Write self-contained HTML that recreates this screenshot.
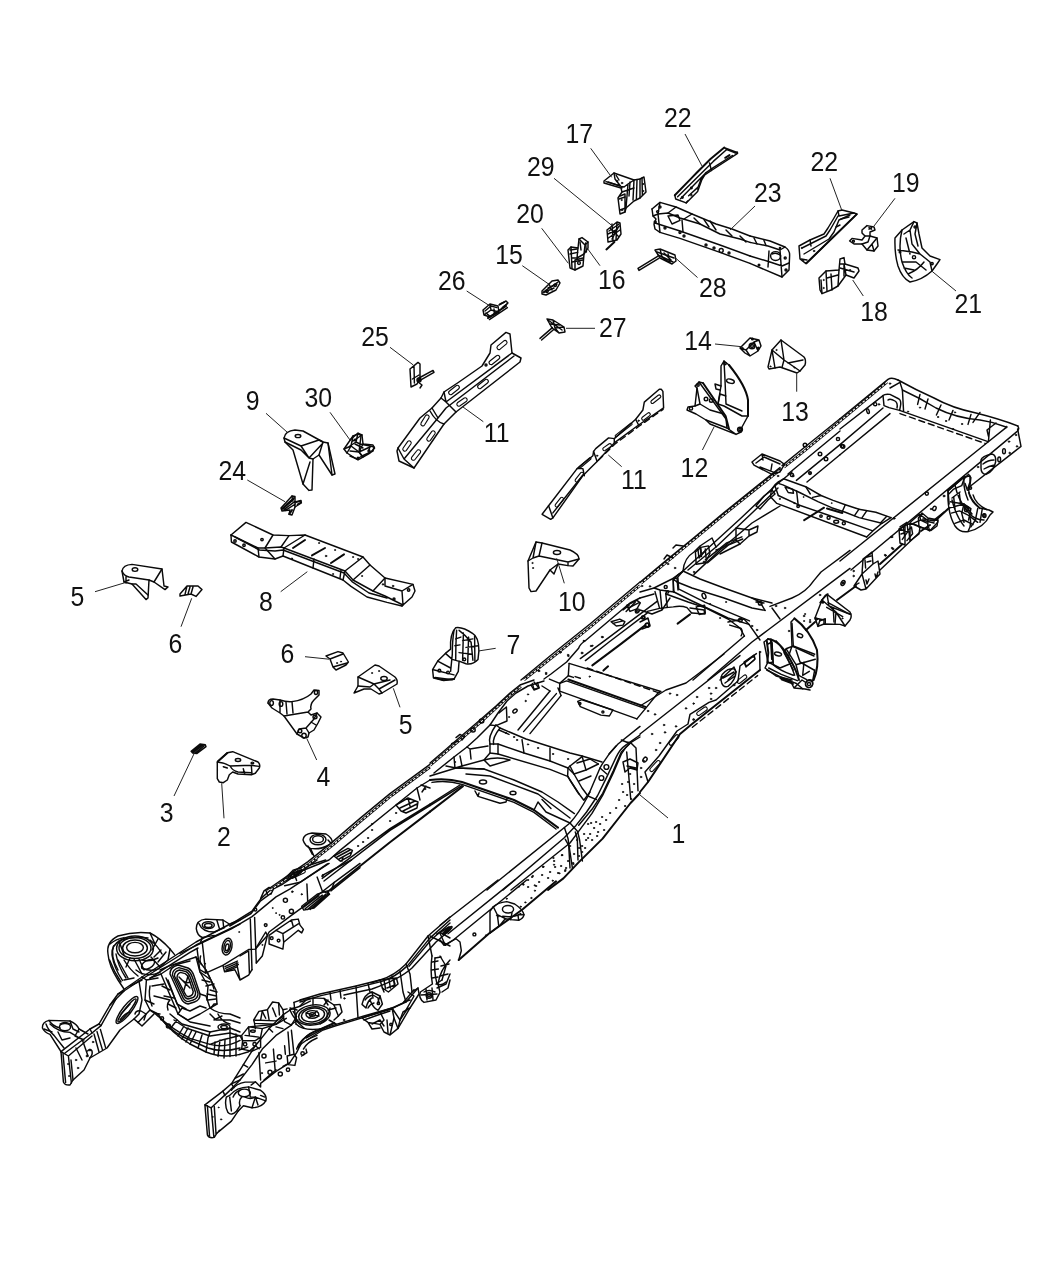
<!DOCTYPE html>
<html lang="en"><head><meta charset="utf-8"><title>Frame, Complete - Parts Diagram</title>
<style>
html,body{margin:0;padding:0;background:#fff}
body{width:1050px;height:1275px;overflow:hidden}
svg{display:block}
.d path,.d ellipse,.d circle{fill:none;stroke:#0a0a0a;stroke-width:1.45;stroke-linejoin:round;stroke-linecap:round}
.d .k,.d .k circle{fill:#141414;stroke-width:.7}
.d .t{stroke-width:1.1}
.d .h{stroke-width:2}
.d .bd{stroke-width:2.6;stroke-linecap:butt}
.d .bi{stroke:#fff;stroke-width:1.1;stroke-dasharray:2.6 1.6;stroke-linecap:butt}
.ld line{stroke:#222;stroke-width:1;fill:none}
.lb text{font-family:"Liberation Sans","DejaVu Sans",sans-serif;font-size:27.6px;fill:#111;text-anchor:middle}
</style></head><body>
<svg width="1050" height="1275" viewBox="0 0 1050 1275">
<rect width="1050" height="1275" fill="#fff"/>
<!-- f_030_920.frag -->
<g class="d">
<path d="M61 1051.6L63.4 1082Q65 1085.6 70 1085L73 1080L84 1070L90 1058L107 1048L120 1030L134 1019"/>
<path d="M68.4 1056L71.4 1083M61 1051.6L68.4 1056L92 1036"/>
<path d="M61 1051.6L90 1029L99 1024L110 1005L118 994L126 988L142 977"/>
<path d="M65 1053L92 1033L101 1025.6L116 999L124 991L139 981"/>
<path d="M94 1034L99 1052M97 1031.6L102.4 1049.6M100.4 1029.4L105.6 1047.6"/>
<ellipse cx="127" cy="1010" rx="16.8" ry="4.4" transform="rotate(-52 127 1010)"/><ellipse cx="127" cy="1010.4" rx="14.4" ry="2.4" transform="rotate(-52 127 1010.4)"/>
<path d="M120 1020Q124 1014 130 1012M121 1014L130 1004"/>
<path d="M139 981L142 1000L139 1014L134 1019M142 977L146.4 980L145 1000L150 1010M134 1019L138 1022.4L150 1010L158 1014"/>
<path d="M135 1014Q136 1010 141 1011L146 1014L144 1020"/>
<path d="M42.4 1028Q42 1022 49 1020.4L70 1021Q77 1024 79 1029L88 1034M42.4 1028Q44.4 1032.4 50 1034.4L60 1050L61 1052"/>
<ellipse cx="65" cy="1027" rx="5.6" ry="3.6"/>
<path d="M50 1024Q58 1032 70 1032.4L80 1038.4M54 1035.4L64 1048M46 1024Q48 1030 54 1035.4M79 1029L75 1036L84 1040"/>
<path d="M108 954Q106 942 118 936Q134 931 150 933Q160 938 170 949L174.4 954.4M108 954Q109 966 118 980L124 989"/>
<path d="M112 955Q111 945 121 940Q134 936 148 938M112 955Q114 968 122.4 980.4M116 954Q118 966 126 978"/>
<ellipse cx="135" cy="948" rx="16" ry="10.4"/><ellipse cx="135" cy="948" rx="12.4" ry="8"/><ellipse cx="135" cy="947.6" rx="8.4" ry="5.2"/>
<path d="M124 960Q130 970 138 976M118 960L128 978M142 960Q150 962 158 958M134 959L142 974M150 940Q158 946 162 954"/>
<ellipse cx="148" cy="964.4" rx="7.2" ry="4" transform="rotate(-30 148 964.4)"/>
<path d="M142 977L170 959L196 942L232 923L240 920"/>
<path d="M139 981L158 969L182 954L196 945L240 924"/>
<path d="M150 978.4L166 967.6L190 952.4L198 948"/>
<path d="M170 974Q170 967 178 965L188 968Q192 970 194 976L200 994Q200.4 1000 194.4 1002L188 1004Q183 1003 181 998Z"/>
<path d="M174.4 976Q174.4 971 179.6 970L186 971.6Q189 973 190.4 977.6L195.6 992.4Q195.6 997 191.6 998L188 999Q185 998.4 183.6 994.4Z"/>
<path d="M179 977L190 988M188 976L184 990M182 980Q186 984 190 982"/>
<path d="M161 974L170 968M161 974L178 1014L188 1020L200 1014L210 1008M160 970L168 966.4L196 957L206 970L216 990L217 1004L210 1008M200 994L206 996L210 1008"/>
<path d="M166 978L180 1010M196 957L200 972L208 986L207 1000M150 978L161 974M152 986L164 984M154 996L170 1000Q166 1004 168 1010"/>
<path d="M206 986L214 984M207 994L216.4 996"/>
<path d="M158 1014Q170 1032 190 1044L206 1052Q222 1058.4 240 1054.4"/>
<path d="M154 1012.4Q170 1028 190 1038.4L210 1044.4Q226 1048.4 240 1040.4"/>
<path d="M170 1014L182 1024L210 1032L230 1028L240 1032M178 1014L190 1022L210 1026"/>
<path d="M206 1052L208 1038L210 1032M218 1056.4L220 1040M230 1056.4L230 1028M190 1044L196 1032M182 1039L188 1028M210 1044.4L222 1040L238 1036"/>
<circle cx="162" cy="1018.4" r="1.6"/><circle cx="168.4" cy="1026" r="2"/><ellipse cx="224" cy="1027" rx="6" ry="3"/><ellipse cx="224" cy="1027" rx="3.2" ry="1.6"/>
<path d="M210 1008Q218 1014 230 1014L240 1018M214 1020L222 1016"/>
<g class="k"><circle cx="76" cy="1060" r="0.8"/><circle cx="78" cy="1068" r="0.8"/><circle cx="90" cy="1050" r="1"/><circle cx="87" cy="1056" r="1"/><circle cx="93" cy="1042" r="0.8"/><circle cx="68" cy="1064" r="0.6"/><circle cx="69" cy="1076" r="0.6"/></g>
<path d="M110 944Q116 939 124 937.6M109.6 960Q114 972 121 982M113.6 946Q110 956 118 970M119 941L124 955M150 933L155 944M158 939L152 950M161 950L154 957M166 952L158 962M130 958L126 967M139 959L144 970M151 957L160 967M124 980L134 978M130 986L142 980"/>
<ellipse cx="135" cy="948.4" rx="18.4" ry="12.4"/>
<path d="M142 968Q150 972 158 969M136 970Q146 978 160 972.4M170 949L168 960L158 969"/>
<path d="M49 1020.4Q52 1026 60 1028M70 1021L73 1029L79 1032M58 1032L62 1040L70 1038M44 1029L52 1032M60 1024Q65 1021 70 1024"/>
<path d="M63 1053.6L65.6 1082.4M73 1080L71 1060M90 1029L92 1033M99 1024L101 1025.6M110 1005L116 999M118 994L124 991M76 1048L82 1060M82.4 1040L88 1056"/>
<path d="M87.6 1051Q90 1048 92 1051Q93 1055 89.6 1058"/>
<path d="M172.4 975Q172.4 969.2 178.8 967.6L187 970Q190.4 971.6 192.2 976.8L198 993.2Q198 998.4 193.2 1000L188 1001.6Q184 1000.8 182.4 996.4Z"/>
<path d="M177 978Q177 973.6 180.4 972.4L185.2 973.6Q187.6 974.8 188.8 978.4L193.2 991.6Q193.2 995.2 190.4 996L188 996.8Q186 996.4 185 993.6Z"/>
<path d="M168 980L177 1004L186 1009M170 968L174 965L190 961M200 972L211 980L214 989M206 970L210 978M208 1000L216 999M210 990L217 992M202 980L210 982M211 1008L214 1004L217 1004"/>
<path d="M162 986L170 990M164 996L174 998M168 1004L176 1008M178 1014L182 1008L190 1011L200 1006L206 1008"/>
<path d="M150 986Q148 996 152 1006M145 1000L154 1004M146.4 980L158 978"/>
<path d="M162 1020Q174 1034 192 1041L208 1048Q222 1053 240 1048"/>
<path d="M174 1020L186 1028L210 1036L230 1033L240 1036M198 1048L202 1035M214 1054L215 1042M224 1058L225 1040M236 1056L236 1034M186 1042L192 1030M178 1036L184 1026M170 1029L177 1020"/>
<path d="M210 1014L216 1020L230 1020L240 1023M218 1014Q222 1022 230 1024"/>
<path d="M150 1010Q154 1014 160 1014M138 1022.4L142 1026L154 1014"/>
</g>
<!-- f_180_860.frag -->
<g class="d">
<path d="M231.4 923.8L252 911.1L261.4 898.1L269.1 891.2L282.9 884L300 872.3L317.1 860"/>
<path d="M180 953.4L202.3 942.6L231.4 928.9L252 916.6L276 896.9L289.7 889.1L329.1 863.4"/>
<path d="M229.7 926L251.1 913.5L260.6 900.8L270.9 893.4"/>
<path d="M205.7 973.1L222.9 965.4L248.6 949.5L255.4 949.1L267.4 935.4L269.1 932L289.7 916.6L303.4 906.6L334.3 882.3L360 863.4"/>
<path d="M250.3 919.1L252 969.7M254.6 917.4L256.3 962.9M202.3 942.6L205.7 973.1M197.1 949.1L199.7 969.7L205.7 973.1"/>
<path d="M196.3 928.6Q196.3 920 205.7 919.1L222.9 920L230.1 924.5M196.3 928.6Q197.1 935.4 202.3 937.5L214.3 935.4M202.3 937.5L200.6 942.3"/>
<ellipse cx="208.3" cy="925.1" rx="6" ry="3.43"/><ellipse cx="208.3" cy="925.5" rx="3.77" ry="2.06"/>
<path d="M198.9 923.4Q202.3 932 214.3 932L224.6 927.7M216.9 920.3L219.4 928.6M222.9 920L223.7 927.7"/>
<ellipse cx="227.1" cy="946.6" rx="4.8" ry="8.57" transform="rotate(12 227.1 946.6)"/><ellipse cx="227.1" cy="946.6" rx="3.09" ry="6.17" transform="rotate(12 227.1 946.6)"/><ellipse cx="227.1" cy="947.4" rx="1.71" ry="3.43" transform="rotate(12 227.1 947.4)"/>
<path d="M222.9 965.4L224.6 971.8L234.9 969.7L240 980L248.6 975.2L252 969.7M255.4 949.1L265.7 932L267.4 935.4L262.3 956L256.3 962.9M240 956L248.6 950.9L249.4 973.1M236.6 962.9L240 980"/>
<path d="M224.9 966.6L237.4 961.1M225.4 968.3L237.9 962.9M225.9 970.1L238.3 964.6M226.6 971.4L236.6 967.1"/>

<path d="M269.1 935.4L276 930.3L291.4 920L298.3 919.1L300 925.1L303.4 929.4L301.7 932.9L298.3 930.3L283.7 942.3L282.9 949.1L269.1 944ZM276 930.3L282.9 933.7L283.7 942.3M282.9 933.7L298.3 923.8M291.4 920L293.1 926"/>
<circle cx="271.7" cy="938.2" r="1.37"/><circle cx="278.6" cy="940.6" r="1.37"/>
<circle cx="285.4" cy="900.3" r="2.06"/><circle cx="291.4" cy="911.4" r="2.06"/><circle cx="282.9" cy="917.4" r="1.71"/><circle cx="265.7" cy="925.1" r="1.37"/><circle cx="255.4" cy="909.7" r="1.37"/>

<path d="M301.7 906.3L317.1 894.3L327.4 890.9L329.5 894.3L314.1 908L303.8 910.1ZM303.8 907.1L318.9 895.7M305.1 908.7L322.3 895.1M307.7 909.4L325.7 894.3M310.3 909.4L328.3 893.9"/>
<path d="M281.1 882.3L293.1 870.3L325.7 860M284.6 885.7L300 882.3L327.4 863.8M306.9 884L307.7 901.1M317.1 877.1L322.3 890.9L329.5 894.3M293.1 870.3L296.6 880.6"/>
<path class="t" d="M292 875.3 L303.2 870.1 A1.5 1.5 0 0 1 304.5 872.8 L293.3 878.1 A1.5 1.5 0 0 1 292 875.3 Z"/>
<path d="M260.6 898.6L264 890.9L269.1 887.4L273.4 889.1L270.9 894.3M265.7 890L267.4 894.3"/>
<path d="M322.3 875.4L351.4 860M330.9 890.9L360 867.7M334.3 882.3L330.9 890.9"/>
<g class="k"><circle cx="204.9" cy="963.7" r="0.69"/><circle cx="272.6" cy="908" r="0.51"/><circle cx="276" cy="913.1" r="0.51"/><circle cx="279.4" cy="914.9" r="0.51"/><circle cx="239.1" cy="932" r="0.51"/><circle cx="262.3" cy="944.9" r="0.51"/><circle cx="301.7" cy="894.3" r="0.69"/><circle cx="322.3" cy="876.3" r="0.69"/><circle cx="292.3" cy="891.7" r="0.86"/></g>
<path d="M200.6 956Q199.2 961.1 201.4 964.6"/>
</g>
<!-- f_180_960.frag -->
<g class="d">
<path d="M204.9 1104.9L222.9 1091.1L231.4 1083.8L243.4 1064.6L255.4 1045.7L269.1 1028.6L282.9 1014.9L293.1 1008"/>
<path d="M211.2 1107.8L229.7 1090.6L240 1080L252 1064.6L262.3 1049.1L276 1035.4L291.4 1025.1"/>
<path d="M231.4 1083.8L240 1080M234.9 1078.3L243.4 1074"/>
<path d="M204.9 1104.9L207.4 1134.9Q209.1 1138.6 214.3 1137.4L216.9 1133.1M211.2 1107.8L213.9 1137.4M204.9 1104.9L211.2 1107.8"/>
<path d="M216.9 1133.1L231.4 1121.1L238.3 1110.9"/>
<path d="M229.7 1095.4Q236.6 1087.2 248.6 1086.9L260.6 1090.3Q267.8 1095.4 265.7 1100.9Q262.3 1107.4 252 1107.8L243.4 1105.7L238.3 1110.9M226.3 1097.1Q224.2 1105.7 228 1112.6Q231.4 1116.3 236.6 1110.9L240 1105.7M226.3 1097.1L229.7 1095.4"/>
<ellipse cx="244.3" cy="1092.9" rx="6" ry="3.77"/>
<path d="M252 1107.8L255.4 1097.1L265.7 1100.9M248.6 1086.9L250.3 1097.1L255.4 1097.1M240 1105.7Q238.3 1100.6 241.7 1097.1"/>
<path d="M260.6 1086.9L260.6 1083.4L276 1071.4L289.7 1062.9L296.6 1052.6L300 1045.7M251.1 1085.1L255.4 1081.7L260.6 1086.9"/>
<circle cx="264" cy="1056" r="2.06"/><circle cx="279.4" cy="1056.9" r="2.06"/><circle cx="270" cy="1072.3" r="2.06"/><circle cx="280.3" cy="1074" r="2.06"/><circle cx="288" cy="1069.7" r="1.71"/><circle cx="302.6" cy="1053.4" r="1.71"/>

<path d="M287.1 1056L294 1054.3L296.6 1057.7L294.9 1065.4L288 1064.6Z"/>
<path d="M288 1032L289.7 1054.3M291.4 1030.3L294 1054.3"/>
<path d="M296.6 1049.1Q300 1038.9 313.7 1032L334.3 1023.4M300 1045.7Q303.4 1040.6 317.1 1035.4"/>
<g class="k"><circle cx="261.9" cy="1073.1" r="0.69"/><circle cx="221.1" cy="1119.4" r="0.69"/><circle cx="219.4" cy="1130.6" r="0.69"/><circle cx="212.6" cy="1116.9" r="0.51"/><circle cx="218.6" cy="1107.4" r="0.51"/></g>
<path d="M253.7 1020L258.9 1011.4L267.4 1009.7L272.6 1002L278.6 1002.9L282.9 1009.7L287.1 1008.9M253.7 1020L276 1020.9L282.9 1016.6M262.3 1011.4L265.7 1018.3M272.6 1008L276 1016.6M253.7 1020L254.6 1023.4L276 1024.3L286.3 1018.3"/>
<path d="M241.7 1035.4L248.6 1026.9L262.3 1028.6L260.6 1037.1L255.4 1040.6L242.6 1040.6ZM242.6 1040.6L241.7 1049.1L252 1051.2L260.6 1047.4L260.6 1037.1M248.6 1026.9L276 1024.3"/>
<circle cx="245.1" cy="1044.3" r="1.71"/><circle cx="254.6" cy="1044.3" r="1.71"/><ellipse cx="252.9" cy="1031.1" rx="2.4" ry="1.2"/>
<path d="M239.1 1054.6L248.6 1051.7L255.4 1045.7M239.1 1050L247.7 1047.1M240 1035.4L242.6 1040.6"/>
<path d="M207.4 1105.7L209.5 1135.7M214.3 1106.6L216 1133.5M222.9 1091.1L224.9 1095.4M231.4 1083.8L234 1087.7M243.4 1064.6L247.7 1067.1M255.4 1045.7L259.2 1048.8M269.1 1028.6L272.6 1032"/>
<path d="M231.4 1090.3Q236.6 1083.4 245.1 1082.1L255.4 1082.1M229.7 1097.1L231.4 1110.9M233.1 1097.1Q234.9 1092 240 1090.3M255.4 1097.1L258 1104.9M260.6 1095.4L264.9 1097.1M245.1 1097.1Q250.3 1099.7 255.4 1097.1"/>
<path d="M258.9 1052.6L260.6 1080M273.4 1049.1L275.1 1069.7M284.6 1045.7L285.4 1054.3M265.7 1062.9L276 1061.1M264 1080L276 1069.7M282.9 1066.3L289.7 1062.9"/>
<path d="M282.9 1014.9L284.6 1021.7L291.4 1025.1M276 1026.9L282.9 1028.6M289.7 1009.7L300 1006.3L310.3 1001.1M293.1 1011.4L296.6 1016.6L291.4 1025.1"/>
<path d="M254.6 1023.8L255.4 1028.6M262.3 1011.4L260.6 1020M267.4 1009.7L269.1 1020M278.6 1002.9L279.4 1014.9M282.9 1009.7L283.7 1016.6"/>
<path d="M242.6 1040.6L255.4 1040.6M245.1 1035.4L258.9 1037.1M248.6 1026.9L249.4 1035.4M262.3 1028.6L276 1024.3L282.9 1018.3"/>
<path d="M298.3 1047.4Q303.4 1035.4 317.1 1030.3L334.3 1022.6M303.4 1049.1Q306.9 1042.3 317.1 1038M301.7 1056L306.9 1052.6L306 1049.1"/>
</g>
<!-- f_220_680.frag -->
<g class="d">
<path d="M267 890L308 861.6L332 842.4L360 818.4L390 793.6L430 764.4"/>
<path class="bd" d="M270.4 890L309.6 863.6L333.6 844.4L361.6 820.4L391.6 795.6L430 767.2"/><path class="bi" d="M270.4 890L309.6 863.6L333.6 844.4L361.6 820.4L391.6 795.6L430 767.2"/>
<path d="M286 881L304 870L329 860L340 850.4L396 805L417 788L430 780"/>
<path d="M322.2 878.4L390 828.6L430 804M324 881L390 830.4L430 805.6"/>
<path class="h" d="M327.4 892L390 842.2L430 811.6"/>
<path d="M303 840Q303.6 834 312 833L326 834Q332 837.6 332.4 842.4M303 840Q305 846 310.4 848.4L314 856M310.4 848.4Q320 850 329 845"/>
<ellipse cx="318" cy="839.2" rx="5.4" ry="3.4"/><ellipse cx="318" cy="839.6" rx="8" ry="5.2"/>
<path d="M308 846L312.4 854.4M328 840L331.2 843.6"/>
<path d="M334 856L348 848.4L352.4 850.4L350.4 855.6L340.4 861.2ZM337 857L350 850M339 859L351 852.4M342 861L343 857"/>
<path d="M396 805L408 798L418 802L417 808L406 813L401 811ZM400 808L415 801M403 811L417 804M408 798L410 806"/>
<ellipse cx="295" cy="874.4" rx="7.6" ry="1.8" transform="rotate(-28 295 874.4)"/>
<ellipse cx="295" cy="874.4" rx="6" ry="1" transform="rotate(-28 295 874.4)"/>
<path d="M417 788L420 800M421 785L430 788M422 792L426 786"/>
<g class="k"><circle cx="358" cy="846" r="0.7"/><circle cx="363" cy="842" r="0.7"/><circle cx="368" cy="838" r="0.7"/><circle cx="372" cy="830" r="0.7"/><circle cx="372" cy="824" r="0.7"/><circle cx="390" cy="821" r="0.7"/><circle cx="396" cy="813" r="0.7"/><circle cx="323" cy="875" r="0.7"/><circle cx="425" cy="789" r="0.8"/></g>
<path d="M268 703Q268 699 273 699L280 700Q286 702 292 701.6Q304 700 311 694L314 690L319 690.4L319 695L314 700Q310 704 311 709L308 712L284 716L297 734L304 738L308 737L309 733L314 730L318 723L321 717L317 713L311 715L308 712"/>
<path d="M268 703L272 708L280 713L284 716M280 700L280 713M286 702L287 714M292 701.6L293 713"/>
<ellipse cx="271.6" cy="703" rx="1.8" ry="2.4"/><ellipse cx="281" cy="704" rx="1.8" ry="2.4"/><ellipse cx="316" cy="692.4" rx="1.6" ry="2"/>
<path d="M297 734L299 729L306 728L314 719L317 713M306 728L309 733M311 722L316 725"/>
<ellipse cx="304" cy="735.6" rx="2.2" ry="2.4"/><ellipse cx="300" cy="731" rx="1.8" ry="1.8"/><ellipse cx="315" cy="717" rx="2" ry="1.8"/>
</g>
<!-- f_240_880.frag -->
<g class="d">
<path d="M450 917L428 936L406 964Q394 976 380 980L356 986L320 994L300 1000"/>
<path d="M450 930L436 942L412 968Q400 979 372 989L344 995"/>
<path d="M450 923L431 940L409 966.4" />
<path d="M418 988L406 1002L392 1008L364 1016L336 1024.4L324 1028.4L306 1038"/>
<path d="M406 964L410 974L412 992M400 971L403 992L406 1002"/>
<ellipse cx="313" cy="1015" rx="17.2" ry="10" transform="rotate(-8 313 1015)"/><ellipse cx="313" cy="1015" rx="11.6" ry="6.8" transform="rotate(-8 313 1015)"/><ellipse cx="312.4" cy="1014.4" rx="6.4" ry="3.8"/><ellipse cx="312.4" cy="1014.4" rx="3" ry="1.8"/>
<path d="M294 1002.4Q306 997 324 998.4L334 1005L338.4 1016L334 1020M330 1008Q328 1020 320 1024M296 1024Q304 1032 324 1028.4"/>
<path d="M362 1004.4Q364 994.4 372 992L380 996L382.4 1004L378 1010.4Q373 1008 370 1000M362 1004.4L366 1008Q368 1000 372 998"/>
<circle cx="378.4" cy="1003.4" r="1.2"/><circle cx="344.4" cy="998.4" r="0.8" class="k"/><circle cx="344" cy="1020" r="0.8" class="k"/>
<path d="M371 983L380 980L396.4 978L398 984L388.4 992L382.4 988L384 992M387 988L395 985"/>
<path d="M362 1018L380 1012L392 1008L400 1020L398 1028.4L390 1035L384 1032L380 1024.4L368 1022.4ZM380 1012L384 1020L380 1024.4M392 1008L394 1018L390 1035M368 1022.4L372 1029L380 1028"/>
<circle cx="391" cy="1024.4" r="1.2"/>
<path d="M412 992L418 988L419 994L410 1008L398 1028.4M400 1020L408 1008"/>
<path d="M432 956Q430 970 432.4 984L420.4 992Q418 998 424 1002.4L436 1000L440 992.4L438 984Q440 970 450 960M435 958Q433.6 970 437 984M440 956L446 966L442 980M424 992Q429 989 435 992"/>
<circle cx="429" cy="995.6" r="2.8"/><circle cx="429" cy="995.6" r="1.4"/>
<path d="M430 936L450 946M440 932.4L450 938M428 936L432 956"/>
<path d="M437 934L449 927" class="h"/>
<path d="M450 920L429.6 938.4L407.6 965.6Q395 977.6 381 981.6L357 987.6L321 995.6L300 1002"/>
<path d="M414 989.6L403 1003L390 1009.6L363 1017.6L335 1026L323 1030L307 1040"/>
<path d="M380 980L382.4 988M356 986L358 1018M368 983.6L370 992M392 976L395 984M340 990L341 998M330 992L331 1000"/>
<ellipse cx="313" cy="1015.4" rx="14.4" ry="8.4" transform="rotate(-8 313 1015.4)"/>
<path d="M297 1010L290 1008M298 1020L292 1024M328 1010L336 1008M329 1020L336 1024M313 1005L313 998M300 1006L306 1000M324 1005L328 1000M306 1013L319 1016M309 1018L317 1011"/>
<path d="M294 1002.4L296 1024M290 1010Q294 1020 304 1028M324 998.4L328 1005M334 1005L340 1004.4L342 1012L338.4 1016"/>
<path d="M365 1000Q368 996 373 995L378 998L379 1003M368 1008Q370 1004 374 1003M372 992L373 998M380 996L378 1002"/>
<path d="M384 980L385.6 989M389 979.4L390.4 988M393.6 978.8L394.4 985M364 1020L378 1015L390 1011M372 1024L380 1020L384 1026M394 1018L398 1028.4M387 1020L388 1033M400 1020L403 1012L410 1008"/>
<path d="M408 992L414 996L406 1010M404 1002L410 1000"/>
<path d="M432.4 962L438 961M431.6 970L438.4 969M432 978L438 977M435 958L441 957M436 984L442 980M426 989L427 1000M432 988L433 999.6M421 995L437 994M437 988L446 984L450 974M440 976L448 974M441 966L449 964"/>
<path d="M437 984Q442 986 446 982M442 992L448 988L450 980"/>
</g>
<!-- f_430_470.frag -->
<g class="d">
<path d="M521 680L550 656L590 624L640 582"/>
<path class="bd" d="M524 680L551.6 658L591.6 626L640 585.6"/><path class="bi" d="M524 680L551.6 658L591.6 626L640 585.6"/>
<path d="M544 679L551 674L566.6 662L578.6 648.2Q580 644 585 641L630 603L640 598"/>
<g class="k"><circle cx="539" cy="671" r="0.8"/><circle cx="546" cy="673" r="0.8"/><circle cx="560" cy="652" r="0.8"/><circle cx="568" cy="655" r="0.8"/><circle cx="584" cy="641" r="0.8"/><circle cx="591" cy="646" r="0.8"/><circle cx="602" cy="637" r="0.8"/><circle cx="582" cy="653" r="1"/></g>
<path d="M528 561L536 542L542 543L570 550Q579 554 579 559L573 566L568 565.6L558 564L550 570L536 591L531 591.6L529 588Z"/>
<path d="M536 542L533 558L528 561M542 543L539 556L568 562L579 559M533 558L539 556M550 570L554 574L558 564M568 562L568 565.6"/>
<ellipse cx="557" cy="552.4" rx="3.6" ry="2"/>
<g class="k"><circle cx="532.4" cy="563" r="0.6"/><circle cx="533" cy="568" r="0.6"/></g>
</g>
<!-- f_430_680.frag -->
<g class="d">
<path d="M487 890L570 823Q579 813 588 796L600 768Q607 755 618 744L640 726.4"/>
<path d="M503 890L564 838L576 825.4L586.6 812L597.4 796L606.6 777.4L616 757.4Q620 749 625.4 745.4L640 735"/>
<path d="M511 890L570 843L578.6 831.4L592 813.4L602.6 795.4L613.4 772.6L621.4 754Q625 747 630.6 742.6L640 737"/>
<path class="h" d="M548 890L563.4 878.4L578.6 862.4L602.6 838.6L618 819L630.6 803L640 793"/>
<path d="M570 823L577.6 831.4L579.6 840L582.4 861"/>
<path d="M564.4 827.6L568 838.4L570 852L572.4 868"/>
<path d="M588 796L596.4 799.6M600 768L606.8 774M590 792L584 800M609 754L616 746"/>
<circle cx="606.4" cy="767" r="2.4"/><circle cx="601.4" cy="778" r="2.4"/>
<path d="M623 762L630 759L638 763L637 770L630 768L625 772ZM627 766L636 768"/>
<path d="M430 763L444 751L459 738L480 720L496 706L510 693L520 685L534 680"/>
<path class="bd" d="M430 765.6L460 740L481 722L511 694.4L521 686.4"/><path class="bi" d="M430 765.6L460 740L481 722L511 694.4L521 686.4"/>
<path d="M434 773L454 757L467 747L477 738L490 725L498 713L507 701L516 693L528 686L544 681"/>
<ellipse cx="473" cy="730" rx="2.2" ry="2"/><ellipse cx="481.6" cy="721" rx="2.2" ry="2"/>
<path d="M456 737.6L460 734.4L464.4 737L462 740M451.6 743.6L458 741"/>
<path d="M499 713L506.4 707L507 721M490 725L496 725.6L507 721"/>
<path d="M518 730L550 691M523.6 731.6L556.4 693.6M530 733.6L561 695.6"/>
<path d="M550 691L542 686M561 695.6L558 688"/>
<ellipse cx="515" cy="711" rx="2.4" ry="1.6" transform="rotate(-40 515 711)"/>
<path d="M534 682L539 688L534 690L531 685"/>
<path d="M496 725L500 728L526 739L570 753L582 756L602 762"/>
<path d="M490 744L498 744L524 753L550 761L568 768L574 774L582 788L588 796"/>
<path d="M490 744Q487.6 737 496 725M493.6 744.4Q492 738 500 728"/>
<path d="M490 744L490 753L498 754L550 769.4L567.6 776.4L577.6 792L583.6 800"/>
<path d="M498 744L498 754M568 768L567.6 776.4"/>
<path d="M570 766L582.4 756.4M577 763L590 759M574 774L586 770L598.4 764M579 781L591 776M570 766L568 768"/>
<path d="M467 747L470 749L488 746M460 756L462 766L484 760L490 753M470 749L471 759"/>
<path d="M454 757L455 768L462 766M446 766L456 768L484 769"/>
<path d="M484 760Q498 756 510 760L490 766Z"/>
<path class="h" d="M430 780Q446 777.6 462 782L514 800L534 810L558 827.6"/>
<path d="M456 768L484 769L514 780L542 792L558 802L574.4 813.6"/>
<path d="M466 774L490 776L538 794L570 818M430 776L456 768"/>
<ellipse cx="483" cy="782" rx="3.6" ry="2"/><ellipse cx="513" cy="793" rx="3" ry="1.8"/>
<path d="M475 791L478 796.4L500 803.2L506 802L507 798.4M478 796.4L479 793"/>
<path d="M538 802L546 812L570 823M542 799.6L551 808.4M534 810L538 802"/>
<path d="M430 804L460 785M430 805.6L462 785.6"/>
<path class="h" d="M430 811.6L463 786.2"/>
<g class="k">
<circle cx="506" cy="733" r="0.7"/><circle cx="514" cy="737" r="0.7"/><circle cx="517" cy="740" r="0.7"/><circle cx="528" cy="744.4" r="0.7"/><circle cx="538" cy="748" r="0.7"/><circle cx="553" cy="754" r="0.7"/><circle cx="568" cy="759" r="0.7"/>
<circle cx="528" cy="694.4" r="0.7"/><circle cx="525.6" cy="701" r="0.7"/><circle cx="509" cy="717" r="0.6"/><circle cx="455" cy="762" r="0.6"/>
<circle cx="588" cy="824" r="0.7"/><circle cx="596" cy="822" r="0.7"/><circle cx="602" cy="817" r="0.7"/><circle cx="590" cy="834" r="0.7"/><circle cx="586" cy="840" r="0.7"/><circle cx="579" cy="848" r="0.7"/><circle cx="582" cy="846" r="0.7"/><circle cx="588" cy="838" r="0.7"/>
<circle cx="562" cy="855" r="0.7"/><circle cx="554" cy="861" r="0.7"/><circle cx="543" cy="867" r="0.7"/><circle cx="532" cy="877" r="0.7"/><circle cx="523" cy="884" r="0.7"/><circle cx="558" cy="873" r="0.7"/><circle cx="573" cy="863" r="0.7"/>
<circle cx="623" cy="792" r="0.7"/><circle cx="627" cy="795" r="0.7"/><circle cx="625" cy="806" r="0.7"/><circle cx="628" cy="782" r="0.7"/><circle cx="631" cy="799" r="0.7"/><circle cx="604" cy="830" r="0.7"/>
<circle cx="566" cy="868" r="0.7"/><circle cx="579" cy="856" r="0.7"/><circle cx="598" cy="832" r="0.7"/><circle cx="548" cy="878" r="0.7"/><circle cx="536" cy="886" r="0.7"/>
</g>
<g class="k"><circle cx="570" cy="846" r="0.7"/><circle cx="574" cy="854" r="0.7"/><circle cx="568" cy="861" r="0.7"/><circle cx="561" cy="866" r="0.7"/><circle cx="550" cy="872" r="0.7"/><circle cx="542" cy="875" r="0.7"/><circle cx="539" cy="882" r="0.7"/><circle cx="528" cy="887" r="0.7"/><circle cx="582" cy="852" r="0.7"/><circle cx="585" cy="848" r="0.7"/><circle cx="592" cy="840" r="0.7"/><circle cx="597" cy="836" r="0.7"/><circle cx="594" cy="828" r="0.7"/><circle cx="606" cy="820" r="0.7"/><circle cx="610" cy="813" r="0.7"/><circle cx="616" cy="808" r="0.7"/><circle cx="619" cy="800" r="0.7"/><circle cx="632" cy="792" r="0.7"/><circle cx="634" cy="784" r="0.7"/><circle cx="622" cy="784" r="0.7"/><circle cx="630" cy="774" r="0.7"/><circle cx="584" cy="834" r="0.7"/><circle cx="591" cy="823" r="0.7"/><circle cx="600" cy="824" r="0.7"/><circle cx="555" cy="867" r="0.7"/><circle cx="565" cy="871" r="0.7"/><circle cx="577" cy="840" r="0.7"/></g>
<path d="M432 782.4Q447 780 462 784.4L514 802.4L534 812.4L556 829M499 730L509 734.4M522 739.6L524 753M550 748L550 761"/>
<path d="M570 766L574 774M582 756L586 770M590 759L598.4 764M568 776.4L570 780L579 794"/>
</g>
<!-- f_440_840.frag -->
<g class="d">
<path d="M440 925.3L450 917.3L498 880"/>
<path d="M448 933.7L514.7 880"/>
<path d="M445.3 945.3L453.3 940L493.3 907.3L526.7 880"/>
<path class="h" d="M458.7 960L489.3 933.3L522.7 909.3L556 881.3"/>
<path d="M440 940L444 945.3L456 938.7L460 942L461.3 950.7L458.7 960M440 933.3L445.3 945.3"/>
<ellipse cx="447.3" cy="930.4" rx="6" ry="1.2" transform="rotate(-38 447.3 930.4)"/><ellipse cx="447.3" cy="930.4" rx="4.8" ry="0.53" transform="rotate(-38 447.3 930.4)"/>
<path d="M490 911.3L493.3 906.7Q497.3 902.7 506.7 901.6L514.7 904Q522.7 909.3 524 914.7Q523.3 918.7 518.7 920.3L510.7 919.6L505.3 918.7L500 925.3L490 933.3Z"/>
<ellipse cx="508" cy="909.3" rx="5.6" ry="3.73"/>
<path d="M493.3 906.7L497.3 914.7L505.3 918.7M510.7 919.6L512 912.7M518.7 920.3L518 914.9L524 914.7M502.7 916.3Q513.3 918 520.7 913.6M497.3 914.7L498.7 925.3"/>
<circle cx="474.4" cy="934.4" r="1.47"/>
<g class="k">
<circle cx="518.9" cy="886.7" r="0.67"/><circle cx="523.3" cy="884.7" r="0.67"/><circle cx="528" cy="880" r="0.67"/><circle cx="532.7" cy="876" r="0.67"/><circle cx="534.7" cy="885.3" r="0.67"/><circle cx="534.9" cy="890.7" r="0.67"/><circle cx="531.3" cy="898" r="0.67"/><circle cx="525.3" cy="902.4" r="0.67"/><circle cx="520.7" cy="906.7" r="0.67"/><circle cx="543.3" cy="866.7" r="0.67"/><circle cx="553.3" cy="858" r="0.67"/><circle cx="554" cy="864.7" r="0.67"/><circle cx="562" cy="855.3" r="0.67"/><circle cx="559.3" cy="873.3" r="0.67"/><circle cx="565.3" cy="870" r="0.67"/><circle cx="552.7" cy="880.7" r="0.67"/><circle cx="573.3" cy="864" r="0.67"/><circle cx="506.7" cy="898.7" r="0.67"/><circle cx="486" cy="935.3" r="0.67"/><circle cx="496.7" cy="915.3" r="0.4"/><circle cx="498.7" cy="916.7" r="0.4"/>
</g>
</g>
<!-- f_510_590.frag -->
<g class="d">
<path d="M580.3 658.6L606 639.7L657.4 601.1M585.4 660.6L609.4 641.8L647.1 613.1"/>
<path class="h" d="M592.3 665.4L619.7 644.9L645.4 625.1"/>
<path d="M611.1 621.7L619.7 619.1L624.9 621.7L623.1 625.1L616.3 626ZM626.6 605.4L636.9 600.3L640.3 602.9L636.9 608.9L630 611.4ZM612.9 623.4L623.1 620.9M628.3 608L638.6 602.9"/>
<circle cx="637.7" cy="610.6" r="1.71"/><circle cx="643.7" cy="617.4" r="1.37"/><circle cx="647.1" cy="625.1" r="1.71"/>
<path d="M532.3 683.4L534 689.4L539.1 687.7L537.4 682.6M549.4 679.1L559.7 683.4"/>
<g class="k"><circle cx="538.3" cy="670.6" r="0.69"/><circle cx="546" cy="674" r="0.69"/><circle cx="560.6" cy="652.6" r="0.69"/><circle cx="568.3" cy="656" r="0.69"/><circle cx="592.3" cy="645.7" r="0.69"/><circle cx="602.6" cy="637.1" r="0.69"/><circle cx="583.7" cy="641.1" r="0.69"/></g>
<path d="M569.1 663.4L660.9 691.5L657.8 693.2L645.4 708.6L636.9 718.9"/>
<path d="M587.1 668L660.9 693.5" stroke-dasharray="6 4"/>
<path d="M569.1 663.4L568.3 675.7L559.7 683.4L559.7 691.1L636.9 718.9"/>
<path d="M559.7 683.4L566.6 680.9L645.4 708.6"/>
<path class="h" d="M568.3 679.5L645.4 706.9"/>
<path d="M568.3 675.7L573.4 677.4M575.1 676.6L580.3 678.3"/>
<path d="M577.7 701.4L582 699.7L612.9 710L609.4 716L600.9 715.1L580.3 706.6Z"/>
<circle cx="579.9" cy="703.5" r="1.03"/><circle cx="602.9" cy="712.1" r="1.03"/>
<path class="h" d="M603.4 670.6L608.1 666.3"/>
<g class="k"><circle cx="589.7" cy="676.6" r="0.69"/></g>
</g>
<!-- f_640_470.frag -->
<g class="d">
<path d="M640 582.2L666 560.6L692 539.2L724 512.6L760 483.6L780 467.6"/>
<path class="bd" d="M640.8 583.6L666.8 562L692.8 540.6L724.8 514L760.8 485.2L781.6 468.8"/><path class="bi" d="M640.8 583.6L666.8 562L692.8 540.6L724.8 514L760.8 485.2L781.6 468.8"/>
<path d="M640 592L654 588L672 579L683 571L706 550L740 519L776 485L792 472"/>
<path d="M688 570L716 547L752 513L778 488M694 574.4L720 550L752 523L780 506"/>
<path d="M683 571Q684 558 694 552L700 546L712 538L716 547M698 550L699 558L706 550M700 546L701 554"/>
<path d="M664 559L667 555L673 558M673 548L676 545L683 546"/>
<path d="M736 528L749 530L758 526L757 532L749 536L740 544L736 540ZM749 530L749 536"/>
<path d="M716 550Q724 548 736 540M720 554Q728 550 740 544"/>
<path d="M756 506L764 496L772 490L775 494L768 500L760 509Z"/>
<path d="M683 571L700 579L724 588L752 598L772 603"/>
<path d="M677 582L692 588L724 598L752 608L765 610.4"/>
<path d="M674 592L690 600L728 618L749 624.4"/>
<path d="M673 579L677 578L683 571M673 579L674 592M677 578L678 590M677 582L673 579"/>
<ellipse cx="704" cy="596" rx="1.8" ry="2.8" transform="rotate(-20 704 596)"/>
<path d="M752 598L760 602L765 610.4M756 602L764 603"/>
<path d="M654 588L660 590L674 592M660 590L662 610L652 614L640 610M662 610L670 598M640 598L654 594"/>
<path d="M666 594L688 602L706 608L728 619L740 628L744.4 636M690 608L704 610L705 614L692 613"/>
<path class="h" d="M677.6 623.6L690 614.4"/>
<path d="M728 622L744 619L749 624.4M640 622L648 618L650 626L642 629"/>
<path d="M693 680L744.4 636M770 606.4L792 598Q806 592.4 814 580.4L821 572L850 550.4"/>
<path d="M708 680L752 642L768 630L850 568.4"/>
<path d="M749 624.4L760 640M772 608L780 619"/>
<path d="M720 680L734 667L736 672L728 680M744 662L754 655L755 659L746 667Z"/>
<ellipse cx="843" cy="583" rx="1.8" ry="2.6" transform="rotate(30 843 583)"/>
<path class="h" d="M768 639Q780 640 791 661Q797 672 799 680"/>
<path class="h" d="M794.4 618.4Q810 630 817 650Q819 668 813.6 680"/>
<path d="M764 642L768 639M764 642L768 662L765 668L776 676L792 680M768 662L780 668L792 663"/>
<path d="M791 622L794.4 618.4M791 622L792 646L788 658M792 646L814 656M796 650L800 662L814 670"/>
<ellipse cx="800" cy="635.6" rx="2.8" ry="1.8" transform="rotate(20 800 635.6)"/><ellipse cx="778" cy="654" rx="3.6" ry="1.8" transform="rotate(15 778 654)"/>
<path d="M768 644L772 642L773 662L769 663"/>
<g class="k"><circle cx="668" cy="564" r="0.8"/><circle cx="675" cy="568" r="0.8"/><circle cx="650" cy="586.4" r="0.8"/><circle cx="642" cy="586" r="0.8"/><circle cx="778" cy="476" r="0.8"/><circle cx="810" cy="473" r="0.8"/><circle cx="793" cy="476" r="1"/>
<circle cx="752" cy="626" r="0.8"/><circle cx="757" cy="630" r="0.8"/><circle cx="776" cy="606" r="0.8"/><circle cx="785" cy="608" r="0.8"/><circle cx="804" cy="616" r="0.8"/><circle cx="810" cy="622" r="0.8"/><circle cx="789" cy="631" r="0.8"/><circle cx="760" cy="652" r="0.8"/><circle cx="816" cy="619" r="1"/><circle cx="822" cy="602" r="1"/>
<circle cx="704" cy="562" r="1"/><circle cx="694" cy="572" r="0.8"/><circle cx="720" cy="618" r="0.6"/><circle cx="710" cy="604" r="0.6"/><circle cx="726" cy="602" r="0.6"/></g>
</g>
<!-- f_640_640.frag -->
<g class="d">
<path d="M640 706L666 690L686 683L698 674L724 654"/>
<path d="M640 734L696 690L740 655.6"/>
<path class="h" d="M640 792L648 782L680 734L692 724L760 670"/><path d="M760 670L759.6 652"/>
<path d="M648 782L645 772L659 756L677 731L688 724L690 714.4L709 702.4L716 700L738 681L740 666L756.4 653.6"/>
<path d="M692.4 727.2L757.6 675.6" stroke-dasharray="6 4"/>

<path class="t" d="M650.3 768.5 L657 761.1 A1.8 1.8 0 0 1 659.7 763.5 L653 770.9 A1.8 1.8 0 0 1 650.3 768.5 Z"/>


<path class="t" d="M669.6 742.2 L675.7 735.4 A1.8 1.8 0 0 1 678.4 737.8 L672.3 744.6 A1.8 1.8 0 0 1 669.6 742.2 Z"/>


<path class="t" d="M697.5 712.1 L704.4 707.3 A1.8 1.8 0 0 1 706.5 710.3 L699.6 715.1 A1.8 1.8 0 0 1 697.5 712.1 Z"/>


<path class="t" d="M737.9 680.1 L743.9 675.4 A1.8 1.8 0 0 1 746.1 678.3 L740.1 683 A1.8 1.8 0 0 1 737.9 680.1 Z"/>


<path class="t" d="M745.9 662.1 L751.9 657.4 A1.8 1.8 0 0 1 754.1 660.3 L748.1 665 A1.8 1.8 0 0 1 745.9 662.1 Z"/>

<path d="M721 680Q720 674 728 669.6Q735 667 736 672Q735.6 680 728 686.4Q722 688 721 680ZM723 678L734 672M725 683L735 676"/>
<ellipse cx="645" cy="759.6" rx="1.8" ry="2.6" transform="rotate(35 645 759.6)"/>
<g class="k"><circle cx="670" cy="693.6" r="0.8"/><circle cx="677" cy="695" r="0.8"/><circle cx="648" cy="711" r="0.8"/><circle cx="655" cy="714.4" r="0.8"/><circle cx="652" cy="734" r="0.8"/><circle cx="665" cy="732.4" r="0.8"/><circle cx="664" cy="725" r="0.8"/><circle cx="676" cy="726.4" r="0.8"/><circle cx="660" cy="743" r="0.8"/><circle cx="686" cy="708.4" r="0.8"/><circle cx="693.6" cy="703.6" r="0.8"/><circle cx="697" cy="697" r="0.8"/><circle cx="709" cy="688" r="0.8"/><circle cx="716" cy="688" r="0.8"/><circle cx="711" cy="693.6" r="0.8"/><circle cx="711" cy="699" r="0.8"/><circle cx="693.6" cy="719.6" r="1"/><circle cx="734" cy="685" r="1"/><circle cx="722" cy="677" r="0.8"/><circle cx="643.6" cy="761" r="0.8"/><circle cx="641" cy="777" r="0.8"/><circle cx="641" cy="768" r="0.8"/><circle cx="656" cy="750" r="0.8"/></g>
</g>
<!-- f_660_320.frag -->
<g class="d">
<path d="M782 465.6L804 447.8L840 418.8"/>
<path class="bd" d="M784 467.2L805.6 450L840 421.6"/><path class="bi" d="M784 467.2L805.6 450L840 421.6"/>
<path d="M788 474L840 431M796.4 480.4L840 444.6M807 482L840 454.8"/>
<circle cx="805" cy="445" r="1.8"/><circle cx="820" cy="454" r="1.8"/><circle cx="826" cy="459" r="1.8"/><circle cx="838" cy="439" r="1.6"/><circle cx="842" cy="446" r="1.6"/><circle cx="792" cy="475" r="1.6"/><circle cx="810" cy="473" r="1.4"/>
<path d="M752 462L762 454L780 461L784.4 464.4L780 472L772 474.4L754 465.2ZM756 463L764 457L780 464M762 454L763 460M760 467L774 472.4M772 464L771 470"/>
<path d="M699 382L726 419L727 428L706 420L696 414L687 410L688 407L695 406L697 388L695 386Z"/>
<path class="h" d="M703 383L725.6 416L729 429M729 365Q746 386 748 400L748 416"/>
<path d="M699 382L703 383M721 366L724 361L729 365M721 366L721 386L718 404L724 406L742 416L748 416M748 416L742 427L741 432L736 434.4L727 428M706 420L710 424L736 434.4"/>
<path d="M724 361L725 380L726 404L742 411M721 386L715 384L716 389L720 390M718 404L720 394L726 396"/>
<path d="M697 388L700 404L710 410L724 414M700 404L695 406"/>
<circle cx="706" cy="399" r="1.8"/><circle cx="711.2" cy="400.4" r="1.8"/><ellipse cx="730.4" cy="381.2" rx="4" ry="2" transform="rotate(15 730.4 381.2)"/>
<circle cx="691" cy="408.4" r="1.6"/><circle cx="740" cy="429.6" r="2.4"/><circle cx="740" cy="429.6" r="1.2"/><circle cx="725" cy="363.6" r="1.2"/><circle cx="698" cy="385" r="1.2"/>
<path d="M768 367L772 350L781 340L804 357Q806.4 360 805 365L800 371L797 373L780 367L769 369Z"/>
<path d="M772 350L784 360L800 371M781 340L784 360M784 360L782 367.4M788 363L803 360M772 350L775 368"/>
<g class="k"><circle cx="776.4" cy="350" r="0.6"/><circle cx="794.4" cy="367.6" r="0.6"/><circle cx="770.4" cy="366.4" r="0.6"/></g>
<path d="M740 348L750 338L759 340L761 346L758 351L750 356L745 353ZM740 348L746 350L750 356M746 350L754 342L759 340M758 351L754 342"/>
<circle cx="752" cy="346" r="2.8"/><circle cx="752" cy="346" r="1.4"/><circle cx="742.4" cy="348.4" r="0.8"/><circle cx="752.4" cy="339" r="0.8"/><circle cx="758.4" cy="348" r="0.8"/>
</g>
<!-- f_760_430.frag -->
<g class="d">
<path d="M783.6 478.8L805.7 486.7L821 495.5L833.1 500.4L845.3 504.7L859 509.2L875.8 512.3L891 517.6"/>
<path d="M783.6 478.8L778.3 481.8Q769.9 487.9 770.7 497L776.8 503.4L866.7 537"/>
<path d="M779 483.6L782.9 484.9L799.6 492.5L817.9 501.6L831.6 507.7L845.3 512.3L859 517.6L881.9 523.3"/>
<path d="M778.3 495.5L798.1 504.7L828.6 515.3L872.8 530.9M891 517.6L881.9 523.3L872.8 530.9L866.7 537"/>
<path d="M805.7 486.7L810.3 494M821 495.5L812.6 497.4M859 509.2L854.5 515.6M866.7 510.8L862.1 517.6M886.5 516.6L880.4 523M845.3 504.7L842.3 511.5M775.2 486.4L778.3 495.5M796.6 491L798.1 504.7"/>
<path d="M785.1 487.1L792.8 489.4L793.5 493.2L788.2 492.5Z"/>
<path class="h" d="M804.2 520.2L824 507.7M827 508.5L842.3 513"/>
<circle cx="798.1" cy="506.2" r="1.22"/><circle cx="821" cy="516.1" r="1.22"/><circle cx="828.6" cy="517.8" r="1.52"/><ellipse cx="836.2" cy="521.7" rx="2.44" ry="1.52"/><circle cx="843.8" cy="523.3" r="1.52"/>
<g class="k"><circle cx="779.8" cy="498.9" r="0.61"/><circle cx="803.4" cy="497" r="0.46"/><circle cx="794.3" cy="503.1" r="0.61"/><circle cx="831.6" cy="503.1" r="0.46"/><circle cx="894.1" cy="518.4" r="0.76"/></g>
</g>
<!-- f_790_480.frag -->
<g class="d">
<path class="h" d="M806 630L815 622M837 600L856 586M880 564L902 544.4M921 531L930 525M936 520L949 508"/>
<path d="M815 618L822 600L827 594.4L850 612Q852.4 616 850 620L845 626L840 624.4L824 624L818 626.4Z"/>
<path d="M822 600L836 612L845 626M827 594.4L829 606L836 612M829 606L850 614.4M815 618L824 620L824 624M836 612L835 624M818 626.4L820 620"/>
<g class="k"><circle cx="823" cy="602.4" r="1"/><circle cx="816" cy="619" r="1"/><circle cx="842.4" cy="618.4" r="0.6"/></g>
<path d="M863 559L872 552L873 564L878 561L880 574L866 589L861 590L854 586L862 574ZM862 574L866 589M865 560L865.6 568M867 557L871 556M867 562L871 561M866 580L867 584L869 579M875 574L876 578L878 572M862 574L873 564M854 586L859 583"/>
<circle cx="809" cy="684" r="3.6"/><circle cx="809" cy="684" r="1.6"/>
<path d="M794 688L802 680L805 682M810 690L805 689L794 688M790 680L794 688"/>
<g class="k"><circle cx="843" cy="583" r="1.2"/><circle cx="853.6" cy="571" r="0.8"/><circle cx="853.6" cy="576" r="0.8"/><circle cx="885.6" cy="555.6" r="0.8"/><circle cx="893" cy="549" r="0.8"/><circle cx="892" cy="537" r="0.8"/><circle cx="820" cy="595" r="0.8"/><circle cx="805" cy="614" r="0.6"/><circle cx="810" cy="620" r="0.6"/><circle cx="804" cy="621" r="0.6"/></g>
</g>
<!-- f_840_360.frag -->
<g class="d">
<path d="M840 418.8L888 379.4Q891.6 377 898 380"/>
<path class="bd" d="M840 421.2L887.2 382"/><path class="bi" d="M840 421.2L887.2 382"/>
<path d="M840 429L883 395.6M840 444.6L883 408M840 454.8L890 413.6"/>
<ellipse cx="868" cy="411.2" rx="1.2" ry="2.4" transform="rotate(-15 868 411.2)"/><circle cx="875.2" cy="404.2" r="1.6"/><circle cx="843" cy="446.4" r="1.8"/>
<path d="M898 380Q916 390 934 398Q952 408 976 413Q1000 419 1018 426"/>
<path d="M900 382.4L902.4 390Q920 398 936 408Q956 418 980 420L992 422.4L1006 427"/>
<path d="M883 395.6Q885 393.6 890 394.4L899 399Q901.6 401 900.4 406.4L899.6 410.4L889 407.6L884 405.6Z"/>
<path d="M888 400Q890 398 895 401Q898 403 897 408"/>
<path d="M899.6 410.4L988 441.6M902.4 390L903.6 411.6"/>
<path d="M900 413.6L985.6 443.6" stroke-dasharray="6 4"/>
<path d="M920 394.4L917.6 404.4M928 399L925 409M941 405L936.4 415M953 410.4L949 420M971 414.4L968 424.4M980 412.4L973 422.4M990.4 420L988.4 441.6M996 423L987 430L988.4 436"/>
<path d="M890 388L900 382.4"/>
<path d="M840 561L988 442L1006 427.6"/>
<path d="M851 570L1016 432.4Q1020.4 429 1017.6 426"/>
<path d="M1017.6 429L1021 446.4L968 488M944 512L934 520M920 532L880 570"/>
<path d="M981 460Q982 456 992 454Q996.4 455 995.6 462Q994 471 986 474.4Q981 474 981 468ZM983 464Q988 460 994 460M984 469Q989 466 994.4 465"/>
<ellipse cx="1004" cy="451.2" rx="1.4" ry="2.6"/><ellipse cx="999.2" cy="459.4" rx="1.4" ry="2.4"/><ellipse cx="934.4" cy="508.4" rx="1.6" ry="2.2" transform="rotate(25 934.4 508.4)"/><circle cx="926.8" cy="493.6" r="1.6"/>
<path d="M948 491L955 485L964 477L970 476L970 482L968 488Q970 500 980 508L989 510L993 512L990 515Q984 528 968 531.6Q960 533 955 526Q949 516 948 500Z"/>
<path d="M955 485Q958 500 968 512Q974 520 984 520M964 477Q963 488 968 500M952 500Q956 516 964 526M949 508L964 504L972 514M960 492L952 498M968 531.6Q972 524 970 518"/>
<ellipse cx="966.4" cy="509" rx="2" ry="2.8"/><ellipse cx="984.4" cy="515.6" rx="1.6" ry="2"/><circle cx="970.4" cy="488" r="1.2"/>
<path d="M918.4 518L922 513L928 518L938 520L937 526L931 530.4L919 527ZM922 520L934 523M928 518L927.6 528"/>
<path d="M899 529L905 526L910 523L920 527L919 534L910 541L909 532ZM899 529L900 543L905 545L905 526M901 534L904 533M910 523L910 541"/>
<g class="k"><circle cx="890" cy="383.6" r="0.8"/><circle cx="879" cy="404.4" r="0.8"/><circle cx="908" cy="411.6" r="0.7"/><circle cx="938" cy="417" r="0.7"/><circle cx="946" cy="421" r="0.7"/><circle cx="953" cy="429" r="0.7"/><circle cx="962" cy="424" r="0.7"/><circle cx="955" cy="412.4" r="0.7"/><circle cx="920" cy="407.6" r="0.7"/>
<circle cx="1006.4" cy="427" r="0.8"/><circle cx="1016" cy="435" r="0.8"/><circle cx="1009" cy="441.6" r="0.8"/><circle cx="1017" cy="446.4" r="0.8"/><circle cx="1009.6" cy="453" r="0.8"/><circle cx="978" cy="467" r="0.8"/><circle cx="944" cy="496" r="1"/><circle cx="931" cy="509" r="0.8"/><circle cx="894" cy="518.4" r="0.8"/><circle cx="891" cy="537" r="0.8"/><circle cx="885" cy="555" r="0.8"/><circle cx="892" cy="548" r="0.8"/></g>
</g>
<!-- g_520_740.frag -->
<g class="d">
<path d="M630.7 742.7L636 748L638 790.7M626.7 752L630.7 798.7M565.3 839.3L568.7 845.3L570 868M575.3 832L577.3 838.7L578 860"/>
<path d="M621.3 740Q626.7 742.7 630.7 742.7M578.7 825.3L592 809.3L602.7 793.3L613.3 770.7L621.3 752L630.7 742.7"/>
</g>
<!-- g_620_520.frag -->
<g class="d">
<path d="M673.3 579.4L677.9 574.9L682.5 571.8M673.3 579.4L673.3 591.6M677.9 577.9L678.7 589.3M679.4 589.3L705.3 602.3L749.5 620.9"/>
<path d="M655 591.6L659.6 608.4L673.3 606.9Q681 605.3 687 607.6M659.6 608.4L647.4 611.4M665.7 593.1L667.2 606.9M687 607.6L691.6 613"/>
<path d="M696.2 606.9L704.6 605.3L705.3 613L699.2 614.5Z"/>
<circle cx="760.2" cy="603.2" r="1.83"/><circle cx="740.4" cy="620" r="1.83"/><circle cx="665.7" cy="587" r="1.52"/><circle cx="667.5" cy="591.9" r="1.22"/>
<path d="M695.4 552L700.8 547.4L708.4 545.9L709.9 553.5L705.3 562.7L696.2 564.2ZM700.8 547.4L701.5 556.6M705.3 549L706.1 558.1"/>
<path d="M705.3 559.9Q717.5 550.5 726.7 542.9L741.9 536.8M707.6 562.7Q719 552.8 728.2 545.1L742.7 539"/>
<path d="M626.1 611.4L635.2 602.3M623 609.9L629.1 605.3"/>
<circle cx="636.8" cy="611.4" r="1.52"/><circle cx="642.9" cy="617.5" r="1.52"/><circle cx="647.4" cy="625.1" r="2.13"/>
<path d="M729.7 625.1L741.1 628.5Q743.4 632 741.1 635.8"/>
</g>
<!-- g_740_590.frag -->
<g class="d">
<path class="h" d="M766.7 640.4L768.3 652.7L767.3 662.7M770.9 639.6L772 659.3"/>
<path d="M766.7 670L780 676.7L796 683.3M768.7 668L781.3 674.3L797.3 680.7M780 678L792 682.7M781.3 679.6L793.3 684"/>
<ellipse cx="809.3" cy="683.6" rx="3.47" ry="4" transform="rotate(25 809.3 683.6)"/>
<path d="M798.7 675.3L806.7 679.6M802.7 688.7L796 683.3M814.7 670L812.7 680.7"/>
<path d="M792 623.3L793.3 646L814.7 654.3M793.3 646L786 648.7L796 664.7L815.3 659.3M786 648.7L784 652.7L793.3 670M796 664.7L798.7 675.3M804 662L802.7 675.3L809.3 671.3"/>
<path d="M773.3 664.7Q778.7 670 793.3 675.3M772 643.3L773.3 664.7M776 640.7Q785.3 650 794.7 675.3"/>
<path d="M820 602.7L825.3 595.3L828 594M828 602.7L846.7 612.7L850.7 614M826.7 607.3L842.7 616.7M820 620.7L825.3 618.7L825.3 623.3M833.3 608.7L834 622"/>
<g class="k"><circle cx="822" cy="602" r="0.8"/><circle cx="816.7" cy="619.3" r="1.07"/></g>
</g>
<!-- g_900_440.frag -->
<g class="d">
<path d="M949.1 493.7L953.7 489.1L961.7 485.7L964 478.9M950.3 501.7L964 504L970.9 508.6M951.4 513.1L959.4 510.9L968.6 515.4L977.7 522.3M954.9 523.4L964 520L973.1 524.6M964 504L961.7 513.1L964 522.3M968.6 492.6Q970.9 501.7 980 508.6M973.1 494.9Q975.4 504 986.9 509.7M959.4 493.7L960.6 504M953.7 497.1L954.9 508.6M970.9 508.6L968.6 520M977.7 508.6L975.4 520L970.9 526.9M982.3 508.6L980 522.3"/>
<circle cx="967.4" cy="508.6" r="1.6"/><circle cx="984" cy="515.2" r="1.14"/>
<path d="M964 478.9L968.6 474.3L970.9 477.7L969.7 488L968.6 490.3M965.1 483.4L967.4 490.3M948 490.3L949.1 504"/>
<path class="h" d="M948 490.3L964 477.1"/>
<path d="M910.3 522.3L919.4 514.3L927.4 520L937.7 520L937.7 522.3L929.7 530.9L926.3 529.1L912.6 523.7M919.4 514.3L920.6 520L927.4 523.4L929.7 530.9M920.6 520L912.6 523.7M922.9 518.9L934.3 521.1"/>
<path d="M900 526.9L906.9 522.3L908 531.4L902.3 539.4M903.4 526.9L904.6 536M906.9 531.4L911.4 526.9L912.6 533.7L906.9 540.6"/>
</g>
<!-- p_060_520.frag -->
<g class="d">
<path d="M122 571Q123 565 132 564.4L162 569L164 586L168 587L165 589.6L154 582L149 580L148 598L146 599.6L132 584L124 582Z"/>
<path d="M122 571Q124 576 129 577L149 580M154 582L162 569M126 577L126 583M132 584L136 584L148 595M124 582L129 580"/>
<ellipse cx="135" cy="569.6" rx="2.8" ry="1.8"/>
<path d="M180 594L187 586L198 586L202 589.6L196 596.4L191 594L180 596ZM187 586L185 594.4M190 587L188 594M193 587L191 594"/>
</g>
<!-- p_150_720.frag -->
<g class="d">
<path d="M217.3 762L227.3 752.7L232.7 751.7L258 762Q260.7 764.7 259.3 768L255.3 773.3L251.3 774.7L238 774L232.7 772L229.3 774.7L227.3 780L223.3 782.7L219.3 782L217.3 778.7Z"/>
<path d="M217.3 762Q224.7 762.7 230 766Q232.7 770.7 238 772L251.3 772.7M230 766L251.3 765.3L259.3 766.4M243.3 768.7L244.7 774M251.3 765.3L252 774.4M223.3 766.7L227.3 768"/>
<path class="h" d="M218 761.3L227.3 753.1"/>
<ellipse cx="238" cy="760" rx="2.67" ry="1.47"/><ellipse cx="252.4" cy="762.9" rx="1.33" ry="0.8"/>
<path d="M191.1 751.3L200 744L205.3 744.7L206 746.7L196.7 753.6L192.7 753.1ZM192.4 751.7L201.3 744.7M193.7 752.3L202.7 745.3M195.1 753.1L204 746"/>
</g>
<!-- p_215_410.frag -->
<g class="d">
<path d="M284 438Q285 431 295 430L303 431L323 442L328 443L335 474L332 475L319 455L313 459L312 490L309 490.4L303 484L293 450L285 442Z"/>
<path d="M284 438L301 446L309 458L313 459M301 446L319 440L323 442M309 458L323 443M285 442L301 450L309 458M323 442L319 455M303 484L310 462M328 443L332 475"/>
<ellipse cx="298" cy="436" rx="2.8" ry="1.6"/>
<path d="M344 449L353 436L359 433.6L362 435L363 444L373 445L374.6 448L370 453L363 457L358 460L347 453Z"/>
<path d="M353 436L351 446L359 452L363 457M362 435L353 441M351 446L344 449M359 452L370 447M363 444L359 452M355 444L363 448M347 453L351 446"/>
<circle cx="355" cy="440" r="0.8"/><circle cx="369" cy="451" r="1"/><circle cx="358" cy="458" r="0.8"/>
<path d="M281 508L292 496L295 496.4L295 502L301 500.4L301.4 503L295 507L292 515L289 514.4L290 510L282 511Z"/>
<path d="M283 508.4L293.4 499.6M284 509.6L294.6 501.6M285.4 510.4L295.4 504M292 496L292.6 501M295 502L295 507"/>
<path d="M231 535L246 522.4L273 535L289 535.6L305 535L363 557L370 565L385 578L413 584.4"/>
<path d="M231 535L258 548L265 548L281 547L284 548L345 571L353 580L373 591L385 596L403 605"/>
<path d="M231 535L231.4 542L259 557L275 559L283 556L343 580L351 586.4L367 597L387 602.4L402 606"/>
<path d="M413 584.4L415 591L412 597L403 605L402 591L413 584.4M402 591L385 586L385 578M403 605L402 606"/>
<path d="M273 535L265 548M289 535.6L281 547M284 548L283 556M345 571L343 580M363 557L345 571M370 565L353 580M385 578L373 591M258 548L259 557M265 548L275 559"/>
<path d="M235 537L259.4 550L275 551L283 550L344 573L352 581.6L369 593L387 598"/>
<path class="h" d="M293 548L305 540M312 555.4L325 548M331 563L344 554.4"/>
<path d="M284 548L305 535M314 559L313 568M341 570L340 578"/>
<circle cx="235" cy="541" r="1.2"/><circle cx="244" cy="545.2" r="1.2"/><circle cx="262" cy="539.6" r="1.2"/><circle cx="408.6" cy="590" r="1.2"/><circle cx="394" cy="599" r="1"/>
<g class="k"><circle cx="326" cy="556" r="0.8"/><circle cx="319" cy="543" r="0.6"/><circle cx="335" cy="550" r="0.6"/><circle cx="353" cy="557" r="0.6"/><circle cx="358" cy="559" r="0.6"/><circle cx="383" cy="584.4" r="0.8"/><circle cx="393" cy="586" r="0.8"/><circle cx="292" cy="558.4" r="0.6"/><circle cx="333" cy="574" r="0.6"/><circle cx="362" cy="576" r="0.6"/></g>
<path class="h" d="M282 509L294 498M289.4 514L292 510"/>
<path d="M296 502.4L300.6 501M297.4 504.4L301 502.4M287 504L291 501"/>
</g>
<!-- p_270_620.frag -->
<g class="d">
<path d="M326 656L338 651.6L343 653L348.4 662L346 665L336 670L333 667L330 659ZM330 659L343 654M333 667L347 663"/>
<g class="k"><circle cx="337" cy="663" r="0.6"/><circle cx="341" cy="661.6" r="0.6"/></g>
<path d="M358 677L375 665L379 666L395 677Q398 680 397 684L382 693L379 694L371 689L364 689L354 693L358 686Z"/>
<path d="M358 677L374 684L379 689L382 693M374 684L390 680M358 686L370 687L374 684M379 689L395 680"/>
<ellipse cx="384" cy="678.4" rx="3.2" ry="2"/>
<g class="k"><circle cx="372" cy="673" r="0.6"/><circle cx="379" cy="671" r="0.6"/></g>
</g>
<!-- p_350_270.frag -->
<g class="d">
<path d="M397 451L399 461L414 468L444 424L456 412L520 362L521 358L512 353L510 334L506 332.4L491 345L490 353L482 366L459 382L444 392L441 398L432 408L420 418L398 448Z"/>
<path d="M404 459L438 418L446 408L514 356M398 448L404 459L414 468M432 408L438 418M444 392L446 402L456 412M446 402L512 353M441 398L446 402"/>
<path d="M430 411Q436 422 444 424"/>
<path class="t" d="M497.5 346.2 L503.9 340.8 A2 2 0 0 1 506.5 343.8 L500.1 349.2 A2 2 0 0 1 497.5 346.2 Z"/>
<path class="t" d="M489.9 361 L496.5 355.8 A2 2 0 0 1 498.9 359 L492.3 364.2 A2 2 0 0 1 489.9 361 Z"/>
<path class="t" d="M449.5 391 L456.1 385.8 A2 2 0 0 1 458.5 389 L451.9 394.2 A2 2 0 0 1 449.5 391 Z"/>
<path class="t" d="M478.5 385 L485.1 379.8 A2 2 0 0 1 487.5 383 L480.9 388.2 A2 2 0 0 1 478.5 385 Z"/>
<path class="t" d="M457.4 402.8 L464.3 398 A2 2 0 0 1 466.6 401.2 L459.7 406 A2 2 0 0 1 457.4 402.8 Z"/>
<path class="t" d="M421.1 422.9 L425.5 415.8 A2 2 0 0 1 428.9 417.9 L424.5 425 A2 2 0 0 1 421.1 422.9 Z"/>
<path class="t" d="M427 438.3 L431.8 431.4 A2 2 0 0 1 435 433.7 L430.2 440.6 A2 2 0 0 1 427 438.3 Z"/>
<path class="t" d="M403 448.3 L407.8 441.4 A2 2 0 0 1 411 443.7 L406.2 450.6 A2 2 0 0 1 403 448.3 Z"/>
<path class="t" d="M411.8 457.1 L417 450.5 A2 2 0 0 1 420.2 452.9 L415 459.5 A2 2 0 0 1 411.8 457.1 Z"/>
<circle cx="486" cy="365" r="1"/>
<path d="M483 310L490 304L498 306L499 312L490 317L484 315ZM490 304L491 310L499 312M491 310L484 315"/>
<path d="M488 318L506 306M489.4 319.6L507.4 307.6M499 305L506 301L508 303L502 308"/>
<path d="M410 369L418 362.4L420 364L420 378L417 384L411 387ZM414 366L414.4 383M410 369L411 387"/>
<path d="M419 378L433 370.4M420 380.4L434 372.4M433 370.4L434 372.4"/>
<circle cx="419" cy="380" r="2"/>
<path d="M350 440L358 433L361 436L360 444L370 446L374 447L373 451L362 456L357 459L350 456M358 433L356 442L360 444M356 442L350 446M360 444L359 452L362 456M370 446L369 450M350 451L359 452"/>
<path class="h" d="M488 318L506 306"/>
<path d="M485 311L491 306L497 307.6M486 313L490 316.4M494 309L494.4 314.4M500 304L504.4 302M503 307L507 304M412.4 379L419 375M418 382L422 385L420 388"/>
<circle cx="419" cy="380" r="1"/>
</g>
<!-- p_370_620.frag -->
<g class="d">
<path d="M450.6 649.1Q449.7 633.7 455.7 627.7Q462.6 626.5 472.9 633.7Q478.9 637.1 478.9 650.9L478 659.4Q472.9 664.9 466 663.7L459.1 661.1L458.3 671.4L454 679.1L443.7 680.3L433.4 677.4L432.6 669.7L437.7 661.1L445.4 653.4Z"/>
<path d="M454 630.3Q452.3 640.6 452.3 654.3L450.6 671.4M459.1 630.3Q466 635.4 471.1 642.3L472.9 660.3M455.7 638.9L460.9 637.1M454.9 645.7L460 644.9M462.6 640.6L472.9 638.9M466 647.4L478.3 645.7M459.1 652.6L472 654.3M445.4 653.4L452.3 659.4L458.3 661.1M437.7 661.1L450.6 668M433.4 669.7L454 674.9M435.1 677.4L452.3 679.7M456.6 630.3Q455.7 644 455.7 660.3M463.4 632.9L462.6 660.3M468.6 637.1L467.7 662.9M474.6 636.3L474.9 661.1"/>
<circle cx="439.4" cy="670.7" r="1.37"/><circle cx="448" cy="672.5" r="1.37"/><circle cx="464.3" cy="659.4" r="1.37"/>
<path class="h" d="M433.8 677.9L443.7 680.3L454 679.1"/>
</g>
<!-- p_530_370.frag -->
<g class="d">
<path d="M542.1 514.3L548.6 505.7L577.1 468.6L592.9 455.7L593.6 451.4L595.7 448.6L608.6 437.9L614.3 438.6L635.7 419.3L642.9 410L644.3 402.1L659.3 389.3L661.4 389.3L662.9 391.4L663.6 407.9L654.3 414.3L638.6 425L614.3 442.9L597.1 461.4L590 468.6L582.9 475.7L552.9 517.9L550.7 519.3Z"/>
<path d="M548.6 505.7L552.9 517.9M584.3 475.7L582.9 468.6L577.1 468.6M552.9 512.9L582.9 475M593.6 451.4L597.1 461.4M614.3 438.6L614.3 442.9M635.7 419.3L638.6 425"/>
<path d="M598.3 460.3L615 444L639.3 426L655 415L663.1 409.3" stroke-dasharray="6 4"/>
<path class="t" d="M651.3 400.8 L658.2 395.3 A1.6 1.6 0 0 1 660.2 397.8 L653.2 403.3 A1.6 1.6 0 0 1 651.3 400.8 Z"/>
<path class="t" d="M642.3 417.3 L647.7 413.1 A1.6 1.6 0 0 1 649.7 415.6 L644.3 419.8 A1.6 1.6 0 0 1 642.3 417.3 Z"/>
<path class="t" d="M603.3 447.9 L609.2 443.8 A1.6 1.6 0 0 1 611 446.4 L605.1 450.5 A1.6 1.6 0 0 1 603.3 447.9 Z"/>
<path class="t" d="M575.3 479.7 L580.8 472.7 A1.6 1.6 0 0 1 583.3 474.6 L577.8 481.6 A1.6 1.6 0 0 1 575.3 479.7 Z"/>
<path class="t" d="M555.3 504.7 L560.8 497.7 A1.6 1.6 0 0 1 563.3 499.6 L557.8 506.6 A1.6 1.6 0 0 1 555.3 504.7 Z"/>
<path class="t" d="M615.3 435.4 L630.8 423.3 A0.9 0.9 0 0 1 631.9 424.6 L616.3 436.7 A0.9 0.9 0 0 1 615.3 435.4 Z"/>
<path class="t" d="M579.1 466.7 L589.8 457.7 A0.9 0.9 0 0 1 590.9 459 L580.2 468 A0.9 0.9 0 0 1 579.1 466.7 Z"/>
<g class="k"><circle cx="638.6" cy="420.7" r="0.71"/><circle cx="597.1" cy="455.7" r="0.71"/></g>
</g>
<!-- p_540_130.frag -->
<g class="d">
<path d="M604 181L614 173L634 180L640 179L644 177L646 192L640 198L634 201L626 208L625 212L620 214L618 198L622 192L621 188L604 183Z"/>
<path d="M614 173L615 179L622 188M606 181.6L624 187M634 180L633 200M640 179L640 198M628 184L626 208M620 196L625 194L625 212M624 187L628 184L634 180M622 192L628 190"/>
<g class="k"><circle cx="617" cy="181" r="0.8"/><circle cx="622" cy="183" r="0.8"/><circle cx="643" cy="184" r="0.8"/><circle cx="643" cy="191" r="0.8"/><circle cx="622" cy="210" r="0.8"/><circle cx="621.6" cy="200" r="0.6"/></g>
<path d="M607 230L617 222L620 223L621 234L617 240L608 242ZM610 228L618 236M617 222L616 240M608 234L616 230M619 226L612 239"/>
<path class="h" d="M614.4 242L606.4 249.4"/>
<path d="M568 250L571 247L578 248L579 239L582 237.6L588 242L588 248L584 254L583 266L575 270L570 268Z"/>
<path d="M571 247L572 268M578 248L577 258L584 254M579 239L585 245L588 242M575 260L583 258M585 245L584 254M572 258L577 258M575 260L575 270"/>
<circle cx="579" cy="263" r="1.4"/>
<path d="M542 291L552 281L558 280L560 283L556 290L546 295L542 294ZM548 288L557 284M544 292.4L554 288"/>
<circle cx="547" cy="291.2" r="1.2"/><circle cx="555.2" cy="285.2" r="1.2"/>
<path d="M547 319L553 320L564 327L565 332L559 333L552 328ZM553 320L555 328L559 333M555 328L564 327"/>
<path d="M552.4 327.6L540 338.4M554 329.2L541.6 340"/>
<path d="M652 209L660 202.4L676 207L692 214L716 224L732 229L750 236"/>
<path d="M652 209L653 216L656 219L654 224L655 229L660 232.4L680 238.4L720 252.4L750 263.4"/>
<path d="M658 214L668 213L680 218L700 224L720 234L740 239L750 242.4"/>
<path d="M655 223L680 231L720 245L750 256M660 202.4L658 214L660 232.4M653 216L658 214"/>
<path d="M676 207L668 213M692 214L684 219M668 216L678 215L680 220.4L672 224ZM682 220L683 232"/>
<path d="M694 218L700 224M710 221L716 230M726 230L732 236M740 236L746 242M704 219.6L709 227"/>
<circle cx="660" cy="207" r="1"/><circle cx="657.6" cy="211.6" r="1"/><circle cx="655.2" cy="222" r="1"/><circle cx="665" cy="228" r="1"/><circle cx="680" cy="232.4" r="1"/><circle cx="684" cy="236" r="1"/><circle cx="706" cy="245" r="1"/><circle cx="714" cy="248" r="1"/><circle cx="721.2" cy="250.4" r="2"/><circle cx="729" cy="253" r="1"/>
<path d="M655 250L660 249L675 255L676 261L672 264L660 258ZM660 249L662 257L672 264M664 253L671 260M668 254L670 262"/>
<path d="M657.6 256.4L638 268.4M658.8 258.4L639 270.4M638 268.4L639 270.4"/>
<path d="M609 231L619 224M608.4 238L620 230M612 224L613 241M543 292.4L558 282M549 284L552 290M548 320L562 330M550 324L560 325M657 252L674 258M658 255L673 262"/>
<path d="M570 250L577 249M572 262L583 260M580 242L581 250M570 254L577.6 252.4M585.6 243L586.4 252"/>
<path d="M608 182L620 186M616 175L619 180M630 182L629 196M637 180L636.4 199M642 178L642.4 195M619 199L625 197M620 210L625.6 208M628 190L634 188"/>
</g>
<!-- p_660_130.frag -->
<g class="d">
<path class="h" d="M674.8 195.2L691 178.6L696.2 173.3L710.5 159L724.3 147.6"/>
<path d="M677.6 196.7L713.3 161.4L726.7 149.5M674.8 195.2L675.7 199L686.2 202.9L687.6 201"/>
<path d="M686.2 202.9L697.6 191.4L701.9 179.5L704.8 174.8L711.4 170.5L737.6 153.3L737.3 152.1L735.2 152.7"/>
<path d="M680.5 198.8L705.7 172.9L713.3 167.6L732.4 155.5M688.6 195.7L698.1 187.1L701 179.5L705.2 173.3"/>
<path d="M724.3 147.6L726.7 149.5L735.2 152.9M725.7 148.1L737.1 152.4M711.4 170.5L709.5 162.9"/>
<path class="h" d="M725.2 157.8L729.5 155.1"/>
<circle cx="691.4" cy="188.1" r="0.76"/><circle cx="682.4" cy="197.6" r="0.76"/><circle cx="691.4" cy="195.2" r="0.48"/><circle cx="698.1" cy="189" r="0.38"/>
</g>
<!-- p_750_150.frag -->
<g class="d">
<path d="M750 236L770 241L785 247Q790 250 789.6 256L789 270L782 277L750 263.4"/>
<path d="M750 242.4L768 246L780 250L782 277M750 256L770 262L782 266L789 263M780 250L785 247M769 251L768 267"/>
<ellipse cx="775.6" cy="256" rx="5" ry="4.4"/><path d="M772 254Q776 252 780 255"/>
<circle cx="785.2" cy="258" r="1"/><circle cx="786" cy="270" r="1"/><circle cx="759" cy="265" r="0.8"/><circle cx="780" cy="248" r="0.6"/>
<path d="M754 238L757 244M764 240.4L766 245.6"/>
<path d="M799 246L800 259L806 263.6L857 214L854 213L842 210L838 211L834 218L828 228L824 234L810 240Z"/>
<path class="h" d="M806.4 263.2L856.6 214.4"/>
<path d="M802 248L826 236L830 230L838 216M804 254L829 239L834 232L839 220L850 215M801 259L807 260M838 211L839 216L854 213M810 240L811 246"/>
<path d="M841 219L849 217M836 227L840 225"/>
<g class="k"><circle cx="803" cy="260" r="0.8"/><circle cx="814" cy="251" r="0.8"/><circle cx="801.6" cy="248" r="0.6"/></g>
<path d="M862 230L867 225.6L874 227L875 230L870 232L870 236L877 238L878 246L874 251L867 250L862 244L854 244L849.6 241L852 238.4L862 240L865 236L862 233Z"/>
<path d="M870 236L868 242L862 244M877 238L872 244L867 250M872 244L874 251M865 236L870 236"/>
<circle cx="853.4" cy="241.2" r="1"/><path d="M869 227.6L871.6 229.2M871.6 227.6L869 229.2"/>
<path d="M819 278L826 271L839 270L840 259L844 257.6L845 264L858 268L859 271L854 278L846 275L838 286L831 290L822 293.6L820 290Z"/>
<path d="M826 271L827 291M839 270L838 286M844 264L844 276M840 268L854 272M831 274L832 290M846 275L844 264M821 280L822 293.6M840 264L845 264M827 278L838 275"/>
<g class="k"><circle cx="823.6" cy="280" r="0.6"/><circle cx="823.6" cy="288" r="0.6"/><circle cx="850" cy="270" r="0.6"/></g>
<path d="M895 238L902 230L914 221.6L917 223L919 234L922 248L930 256L940 259.6L937 264L932 271Q922 280 910 282Q902 278 898 266Q894.4 254 895 238Z"/>
<path d="M902 230Q898 246 902 262Q906 274 912 278M914 221.6L910 230L912 244L920 254L930 262L932 271M898 250L912 252L920 254M902 262L916 262L926 270M910 230L904 234M908 274Q918 270 924 262M917 223L915 234L918 246M906 238L910 254M904 268L914 270"/>
<circle cx="915" cy="227" r="1"/><circle cx="914" cy="257.2" r="1.6"/><circle cx="932" cy="263.6" r="1.2"/><circle cx="900" cy="252" r="0.8"/>
</g>
<!-- zz_labels.frag -->
<g class="ld">
<line x1="590.7" y1="148.3" x2="611.7" y2="177.3"/>
<line x1="554.0" y1="178.3" x2="613.3" y2="226.7"/>
<line x1="541.7" y1="228.3" x2="568.3" y2="263.3"/>
<line x1="522.3" y1="265.7" x2="550.0" y2="285.0"/>
<line x1="600.0" y1="265.7" x2="587.3" y2="248.3"/>
<line x1="466.7" y1="291.0" x2="490.0" y2="306.0"/>
<line x1="595.0" y1="328.3" x2="566.0" y2="328.3"/>
<line x1="390.0" y1="347.3" x2="413.3" y2="365.0"/>
<line x1="483.3" y1="421.7" x2="463.0" y2="407.0"/>
<line x1="685.0" y1="134.0" x2="702.0" y2="166.0"/>
<line x1="830.0" y1="178.3" x2="841.7" y2="210.0"/>
<line x1="755.0" y1="206.0" x2="730.0" y2="230.0"/>
<line x1="895.0" y1="198.3" x2="874.0" y2="226.0"/>
<line x1="863.3" y1="296.0" x2="852.7" y2="280.0"/>
<line x1="956.0" y1="291.0" x2="932.4" y2="271.6"/>
<line x1="715.0" y1="344.0" x2="741.7" y2="346.7"/>
<line x1="796.7" y1="391.7" x2="796.7" y2="373.3"/>
<line x1="675.0" y1="257.5" x2="697.5" y2="277.5"/>
<line x1="266.0" y1="413.3" x2="287.3" y2="432.3"/>
<line x1="330.0" y1="412.3" x2="350.0" y2="440.0"/>
<line x1="247.3" y1="480.0" x2="285.0" y2="501.7"/>
<line x1="95.0" y1="591.7" x2="125.0" y2="582.7"/>
<line x1="181.0" y1="626.7" x2="191.7" y2="598.3"/>
<line x1="280.7" y1="591.7" x2="307.3" y2="571.7"/>
<line x1="305.0" y1="656.7" x2="329.0" y2="659.2"/>
<line x1="621.7" y1="466.7" x2="608.3" y2="455.0"/>
<line x1="564.3" y1="583.3" x2="556.7" y2="558.3"/>
<line x1="495.7" y1="648.3" x2="478.3" y2="651.0"/>
<line x1="400.0" y1="707.3" x2="393.3" y2="688.3"/>
<line x1="316.7" y1="760.0" x2="306.7" y2="738.3"/>
<line x1="174.0" y1="796.0" x2="195.0" y2="751.7"/>
<line x1="224.0" y1="818.3" x2="221.7" y2="783.3"/>
<line x1="668.0" y1="818.0" x2="640.0" y2="795.0"/>
<line x1="702.4" y1="450.0" x2="714.0" y2="427.0"/>
</g>
<g class="lb" style="opacity:.999">
<text transform="translate(579.3,143.3) scale(.9,1)">17</text>
<text transform="translate(540.7,175.6) scale(.9,1)">29</text>
<text transform="translate(530.0,223.3) scale(.9,1)">20</text>
<text transform="translate(509.0,263.9) scale(.9,1)">15</text>
<text transform="translate(451.7,289.9) scale(.9,1)">26</text>
<text transform="translate(611.7,288.9) scale(.9,1)">16</text>
<text transform="translate(612.7,337.3) scale(.9,1)">27</text>
<text transform="translate(375.0,345.6) scale(.9,1)">25</text>
<text transform="translate(496.7,442.3) scale(.9,1)">11</text>
<text transform="translate(677.7,126.6) scale(.9,1)">22</text>
<text transform="translate(824.3,170.6) scale(.9,1)">22</text>
<text transform="translate(767.7,201.6) scale(.9,1)">23</text>
<text transform="translate(905.7,192.3) scale(.9,1)">19</text>
<text transform="translate(712.7,297.3) scale(.9,1)">28</text>
<text transform="translate(874.0,320.6) scale(.9,1)">18</text>
<text transform="translate(968.3,312.9) scale(.9,1)">21</text>
<text transform="translate(698.0,349.9) scale(.9,1)">14</text>
<text transform="translate(795.0,420.6) scale(.9,1)">13</text>
<text transform="translate(252.7,409.9) scale(.9,1)">9</text>
<text transform="translate(318.3,406.6) scale(.9,1)">30</text>
<text transform="translate(232.3,479.9) scale(.9,1)">24</text>
<text transform="translate(77.3,605.6) scale(.9,1)">5</text>
<text transform="translate(175.3,652.9) scale(.9,1)">6</text>
<text transform="translate(266.0,611.3) scale(.9,1)">8</text>
<text transform="translate(287.3,663.3) scale(.9,1)">6</text>
<text transform="translate(634.0,488.9) scale(.9,1)">11</text>
<text transform="translate(694.4,476.6) scale(.9,1)">12</text>
<text transform="translate(571.7,611.3) scale(.9,1)">10</text>
<text transform="translate(513.3,653.9) scale(.9,1)">7</text>
<text transform="translate(405.7,733.9) scale(.9,1)">5</text>
<text transform="translate(323.3,785.6) scale(.9,1)">4</text>
<text transform="translate(166.7,822.3) scale(.9,1)">3</text>
<text transform="translate(224.0,845.6) scale(.9,1)">2</text>
<text transform="translate(678.3,842.8) scale(.9,1)">1</text>
</g>

</svg>
</body></html>
